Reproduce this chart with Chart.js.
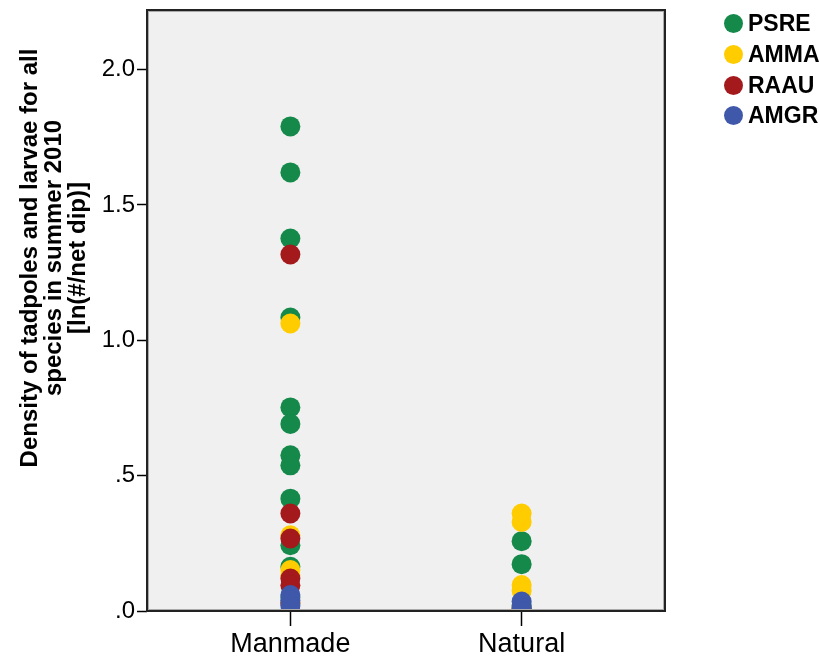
<!DOCTYPE html>
<html>
<head>
<meta charset="utf-8">
<script src="https://cdn.jsdelivr.net/npm/chart.js@4"></script>
<style>
  html, body { margin: 0; padding: 0; background: #fff; }
  #wrap { position: relative; width: 820px; height: 661px; }
  .leg { position: absolute; left: 724px; font: bold 23px "Liberation Sans", Arial, sans-serif; color: #000; line-height: 24px; white-space: nowrap; }
  .leg span { display: inline-block; width: 19px; height: 19px; border-radius: 50%; vertical-align: -2px; margin-right: 5px; }
</style>
</head>
<body>
<div id="wrap">
  <canvas id="c" width="820" height="661"></canvas>
  <div id="legend"></div>
</div>
<script>
// categories on the x axis (placed at x = 1, 2)
const categories = ['Manmade', 'Natural'];
const seriesNames = ['PSRE', 'AMMA', 'RAAU', 'AMGR'];
const seriesColors = ['#14894a', '#ffcc00', '#a3191c', '#3f58aa'];

// values, per species and site type
const psreManmade = [1.79, 1.62, 1.376, 1.084, 0.752, 0.691, 0.575, 0.538, 0.415, 0.243, 0.163, 0.05];
const psreNatural = [0.258, 0.173, 0.02];
const ammaManmade = [1.062, 0.28, 0.151, 0.13, 0.03];
const ammaNatural = [0.36, 0.329, 0.096, 0.075, 0.01];
const raauManmade = [1.317, 0.36, 0.268, 0.12, 0.095, 0.03];
const raauNatural = [0.01];
const amgrManmade = [0.059, 0.04, 0.02, 0.0];
const amgrNatural = [0.035, 0.015, 0.0];

const yTicks = [0, 0.5, 1, 1.5, 2];
const yTitle = ['Density of tadpoles and larvae for all', 'species in summer 2010', '[ln(#/net dip)]'];

const seriesValues = [
  [psreManmade, psreNatural],
  [ammaManmade, ammaNatural],
  [raauManmade, raauNatural],
  [amgrManmade, amgrNatural]
];

function toPoints(pair) {
  var pts = [];
  pair.forEach(function (vals, i) {
    vals.forEach(function (v) { pts.push({x: i + 1, y: v}); });
  });
  return pts;
}

const datasets = seriesNames.map(function (name, i) {
  return {
    label: name,
    data: toPoints(seriesValues[i]),
    backgroundColor: seriesColors[i],
    borderColor: seriesColors[i],
    borderWidth: 0,
    pointRadius: 10,
    pointHoverRadius: 10,
    clip: 0,
    order: seriesNames.length - i   // later species drawn on top
  };
});

// grey plot background + frame + rotated axis title
const frame = {
  id: 'frame',
  beforeDatasetsDraw(chart) {
    const a = chart.chartArea, ctx = chart.ctx;
    ctx.save();
    ctx.fillStyle = '#f0f0f0';
    ctx.fillRect(a.left, a.top, a.right - a.left, a.bottom - a.top);
    ctx.restore();
  },
  afterDatasetsDraw(chart) {
    const a = chart.chartArea, ctx = chart.ctx;
    ctx.save();
    ctx.strokeStyle = '#222';
    ctx.lineWidth = 2;
    ctx.strokeRect(a.left, a.top, a.right - a.left, a.bottom - a.top);
    ctx.strokeStyle = '#aaa';
    ctx.lineWidth = 1;
    ctx.strokeRect(a.left + 1.5, a.top + 1.5, a.right - a.left - 3, a.bottom - a.top - 3);
    ctx.restore();
  },
  afterDraw(chart) {
    const ctx = chart.ctx;
    ctx.save();
    ctx.font = 'bold 24px "Liberation Sans", Arial, sans-serif';
    ctx.fillStyle = '#000';
    ctx.textAlign = 'center';
    ctx.textBaseline = 'middle';
    const xs = [30, 54, 78];
    yTitle.forEach(function (t, i) {
      ctx.save();
      ctx.translate(xs[i], 258);
      ctx.rotate(-Math.PI / 2);
      ctx.fillText(t, 0, 0);
      ctx.restore();
    });
    ctx.restore();
  }
};

new Chart(document.getElementById('c'), {
  type: 'scatter',
  data: { datasets: datasets },
  options: {
    responsive: false,
    animation: false,
    events: [],
    layout: { padding: { left: 0, right: 155, top: 8, bottom: 0 } },
    plugins: { legend: { display: false }, tooltip: { enabled: false } },
    scales: {
      x: {
        type: 'linear',
        min: 0.38,
        max: 2.62,
        afterBuildTicks: function (s) { s.ticks = categories.map(function (c, i) { return {value: i + 1}; }); },
        afterFit: function (s) { s.height = 50; s.paddingLeft = 0; s.paddingRight = 0; },
        border: { display: false },
        grid: { drawOnChartArea: false, tickLength: 15, tickColor: '#000', tickWidth: 1.5 },
        ticks: {
          padding: 2,
          color: '#000',
          font: { family: '"Liberation Sans", Arial, sans-serif', size: 27 },
          callback: function (v) { return categories[v - 1]; }
        }
      },
      y: {
        min: 0,
        max: 2.22,
        afterBuildTicks: function (s) { s.ticks = yTicks.map(function (v) { return {value: v}; }); },
        afterFit: function (s) { s.width = 147; s.paddingTop = 0; s.paddingBottom = 0; },
        border: { display: false },
        grid: { drawOnChartArea: false, tickLength: 10, tickColor: '#000', tickWidth: 1.5 },
        ticks: {
          padding: 2,
          color: '#000',
          font: { family: '"Liberation Sans", Arial, sans-serif', size: 24 },
          callback: function (v) { return v.toFixed(1).replace(/^0/, ''); }
        }
      }
    }
  },
  plugins: [frame]
});

// legend
const legendRows = [11, 42, 73, 103];
const legEl = document.getElementById('legend');
seriesNames.forEach(function (name, i) {
  const d = document.createElement('div');
  d.className = 'leg';
  d.style.top = legendRows[i] + 'px';
  d.innerHTML = '<span style="background:' + seriesColors[i] + '"></span>' + name;
  legEl.appendChild(d);
});
</script>
</body>
</html>
